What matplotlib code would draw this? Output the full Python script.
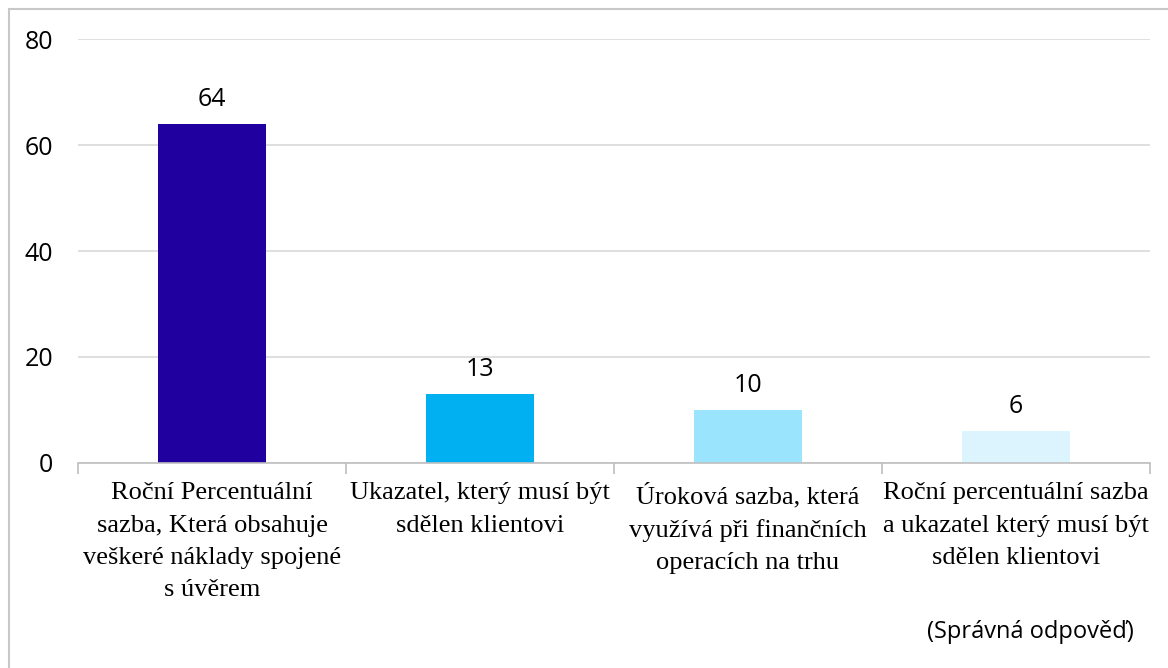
import numpy as np
import matplotlib.pyplot as plt
from matplotlib.patches import Rectangle

# Data
categories = [
    "Roční Percentuální\nsazba, Která obsahuje\nveškeré náklady spojené\ns úvěrem",
    "Ukazatel, který musí být\nsdělen klientovi",
    "Úroková sazba, která\nvyužívá při finančních\noperacích na trhu",
    "Roční percentuální sazba\na ukazatel který musí být\nsdělen klientovi",
]
values = [64, 13, 10, 6]
colors = ["#20009E", "#00B0F0", "#9BE4FD", "#DCF4FE"]
y_ticks = [0, 20, 40, 60, 80]

sans = ["Open Sans", "DejaVu Sans"]
serif = ["Liberation Serif", "DejaVu Serif"]

fig = plt.figure(figsize=(11.68, 6.68), dpi=100)
ax = fig.add_axes([0.0668, 0.3069, 0.9178, 0.6347])

x = np.arange(len(values))
ax.bar(x, values, width=0.4, color=colors, zorder=3)

# Value labels above bars
for xi, v in zip(x, values):
    ax.annotate(str(v), (xi, v), xytext=(0, 13), textcoords="offset points",
                ha="center", va="baseline", fontsize=18, family=sans, color="#000000")

ax.set_xlim(-0.5, len(values) - 0.5)
ax.set_ylim(0, 80)
ax.set_yticks(y_ticks)
ax.set_yticklabels([str(t) for t in y_ticks], family=sans, fontsize=18)
ax.tick_params(axis="y", length=0, pad=18)
ax.grid(axis="y", color="#D9D9D9", linewidth=1.2, zorder=0)

# Category labels at centers, tick marks at boundaries
ax.set_xticks(x)
ax.set_xticklabels(categories, family=serif, fontsize=19, linespacing=1.6)
ax.tick_params(axis="x", which="major", length=0, pad=14)
ax.set_xticks(np.arange(len(values) + 1) - 0.5, minor=True)
ax.tick_params(axis="x", which="minor", length=8, color="#BFBFBF", width=1.2)

for side in ["left", "right", "top"]:
    ax.spines[side].set_visible(False)
ax.spines["bottom"].set_color("#BFBFBF")
ax.spines["bottom"].set_linewidth(1.2)
ax.spines["bottom"].set_zorder(4)

fig.text(0.882, 0.054, "(Správná odpověď)", family=sans, fontsize=17,
         ha="center", va="center")

# Outer chart border
fig.patches.append(Rectangle((9 / 1168, -0.1), 1.2, 1.1 - 9 / 668,
                             transform=fig.transFigure, fill=False,
                             edgecolor="#C8C8C8", linewidth=1.5))

fig.savefig("out.png", dpi=100)
